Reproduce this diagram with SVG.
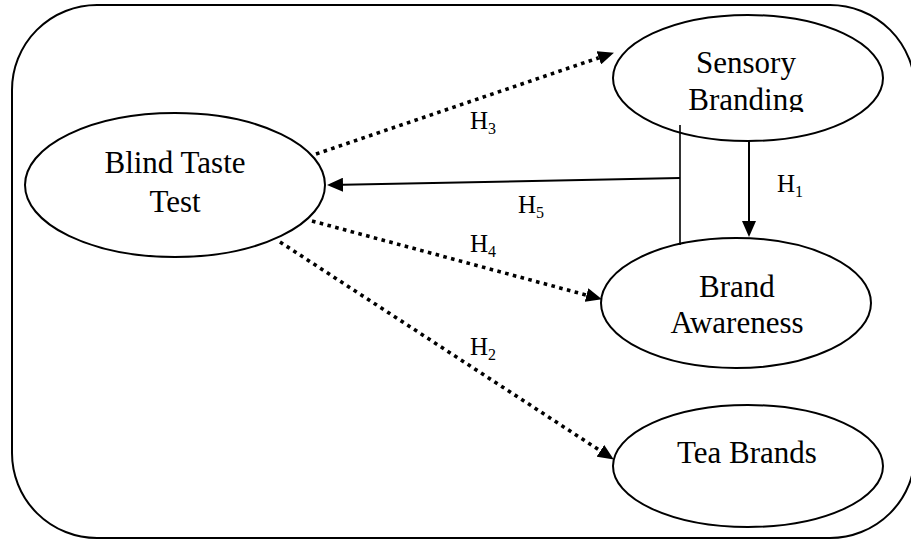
<svg xmlns="http://www.w3.org/2000/svg" width="911" height="540" viewBox="0 0 911 540">
  <style>
    .frame { fill: none; stroke: #000; stroke-width: 2; }
    .node ellipse { fill: none; stroke: #000; stroke-width: 2; }
    .label { font-family: "Liberation Serif", "Times New Roman", serif; font-size: 31px; fill: #000; text-anchor: middle; }
    .hyp { font-family: "Liberation Serif", "Times New Roman", serif; font-size: 25px; fill: #000; }
    .hyp tspan { font-size: 16px; }
    .dotted { fill: none; stroke: #000; stroke-width: 3.6; stroke-dasharray: 3.6 4.4; }
    .solid { fill: none; stroke: #000; stroke-width: 2; }
    .thin { fill: none; stroke: #000; stroke-width: 1.6; }
  </style>
  <defs>
    <marker id="arrow" markerUnits="userSpaceOnUse" markerWidth="16" markerHeight="14" viewBox="0 0 16 14" refX="0" refY="7" orient="auto">
      <path d="M0,0 L16,7 L0,14 Z" fill="#000" stroke="none"/>
    </marker>
    <clipPath id="clipSB">
      <rect x="600" y="0" width="300" height="112"/>
    </clipPath>
  </defs>

  <rect class="frame" x="12" y="5" width="903" height="533" rx="85" ry="85"/>

  <g id="node-blind-taste-test" class="node">
    <ellipse cx="175" cy="185" rx="150" ry="72"/>
    <text class="label" x="175" y="173">Blind Taste</text>
    <text class="label" x="175" y="212">Test</text>
  </g>

  <g id="node-sensory-branding" class="node">
    <ellipse cx="748" cy="78" rx="135" ry="63"/>
    <g clip-path="url(#clipSB)">
      <text class="label" x="746" y="73">Sensory</text>
      <text class="label" x="746" y="110">Branding</text>
    </g>
  </g>

  <g id="node-brand-awareness" class="node">
    <ellipse cx="736" cy="303" rx="135" ry="65"/>
    <text class="label" x="737" y="297">Brand</text>
    <text class="label" x="737" y="333">Awareness</text>
  </g>

  <g id="node-tea-brands" class="node">
    <ellipse cx="748" cy="466" rx="135" ry="61"/>
    <text class="label" x="747" y="463">Tea Brands</text>
  </g>

  <g id="connectors">
    <line id="h3" class="dotted" x1="316" y1="154" x2="598.8" y2="57.8" marker-end="url(#arrow)"/>
    <line id="h4" class="dotted" x1="312" y1="221" x2="586.5" y2="295.1" marker-end="url(#arrow)"/>
    <line id="h2" class="dotted" x1="280" y1="242" x2="600.4" y2="450.8" marker-end="url(#arrow)"/>
    <line id="h5" class="solid" x1="680" y1="178" x2="343" y2="184.7" marker-end="url(#arrow)"/>
    <line id="h5-bar" class="thin" x1="680" y1="125" x2="680" y2="245"/>
    <line id="h1" class="solid" x1="749" y1="141" x2="749" y2="221" marker-end="url(#arrow)"/>
  </g>

  <g id="labels">
    <text class="hyp" x="470" y="129">H<tspan dy="5">3</tspan></text>
    <text class="hyp" x="777" y="192">H<tspan dy="5">1</tspan></text>
    <text class="hyp" x="518" y="213">H<tspan dy="5">5</tspan></text>
    <text class="hyp" x="470" y="252">H<tspan dy="5">4</tspan></text>
    <text class="hyp" x="470" y="355">H<tspan dy="5">2</tspan></text>
  </g>
</svg>
